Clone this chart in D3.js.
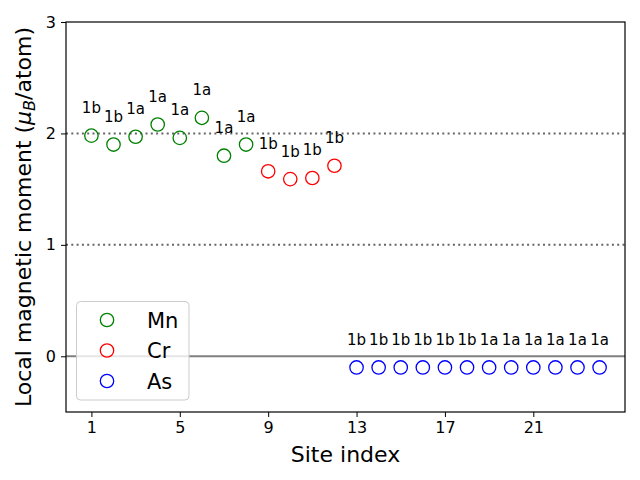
<!DOCTYPE html>
<html>
<head>
<meta charset="utf-8">
<script src="https://cdn.jsdelivr.net/npm/d3@7"></script>
<style>
body{margin:0;background:#fff;}
text{font-family:"DejaVu Sans",sans-serif;}
</style>
</head>
<body>
<svg id="chart" width="640" height="480"></svg>
<script>
const mnSites = [1,2,3,4,5,6,7,8];
const mnValues = [1.98,1.90,1.97,2.08,1.96,2.14,1.80,1.90];
const crSites = [9,10,11,12];
const crValues = [1.66,1.59,1.60,1.71];
const asSites = [13,14,15,16,17,18,19,20,21,22,23,24];
const asValues = [-0.10,-0.10,-0.10,-0.10,-0.10,-0.10,-0.10,-0.10,-0.10,-0.10,-0.10,-0.10];
const siteLabels = ["1b","1b","1a","1a","1a","1a","1a","1a","1b","1b","1b","1b",
                    "1b","1b","1b","1b","1b","1b","1a","1a","1a","1a","1a","1a"];
const xTicks = [1,5,9,13,17,21];
const yTicks = [0,1,2,3];
const refLines = [{y:2,dash:true},{y:1,dash:true},{y:0,dash:false}];

const series = [
  {name:"Mn", color:"green", sites:mnSites, values:mnValues},
  {name:"Cr", color:"red", sites:crSites, values:crValues},
  {name:"As", color:"blue", sites:asSites, values:asValues}
];

const L=66, R=625, T=22, B=412;
const svg = d3.select("#chart");
const x = d3.scaleLinear().domain([-0.15,25.15]).range([L,R]);
const y = d3.scaleLinear().domain([-0.5,3]).range([B,T]);

// reference lines
refLines.forEach(r=>{
  svg.append("line").attr("x1",L).attr("x2",R).attr("y1",y(r.y)).attr("y2",y(r.y))
    .attr("stroke", r.dash ? "#666" : "#808080")
    .attr("stroke-width", 2)
    .attr("stroke-dasharray", r.dash ? "2,3.3" : null);
});

// points
series.forEach(s=>{
  svg.append("g").selectAll("circle").data(s.sites.map((d,i)=>({x:d,y:s.values[i]})))
    .enter().append("circle")
    .attr("cx",d=>x(d.x)).attr("cy",d=>y(d.y)).attr("r",6.7)
    .attr("fill","none").attr("stroke",s.color).attr("stroke-width",1.3);
});

// site labels
const allSites = mnSites.concat(crSites, asSites);
const allVals = mnValues.concat(crValues, asValues);
svg.append("g").selectAll("text").data(allSites.map((d,i)=>({x:d,y:allVals[i],t:siteLabels[i]})))
  .enter().append("text")
  .attr("x",d=>x(d.x)).attr("y",d=>y(d.y+0.25)).attr("dy","0.35em")
  .attr("text-anchor","middle").attr("font-size","15px").attr("fill","#000")
  .text(d=>d.t);

// axes
const xAxis = svg.append("g").attr("transform",`translate(0,${B})`)
  .call(d3.axisBottom(x).tickValues(xTicks).tickSize(5).tickPadding(5).tickFormat(d3.format("d")));
const yAxis = svg.append("g").attr("transform",`translate(${L},0)`)
  .call(d3.axisLeft(y).tickValues(yTicks).tickSize(5).tickPadding(5).tickFormat(d3.format("d")));
[xAxis,yAxis].forEach(a=>{
  a.select(".domain").remove();
  a.selectAll("text").attr("font-size","16px").attr("font-family","DejaVu Sans").attr("fill","#000");
  a.selectAll("line").attr("stroke","#000").attr("stroke-width",1);
});

// frame
svg.append("rect").attr("x",L).attr("y",T).attr("width",R-L).attr("height",B-T)
  .attr("fill","none").attr("stroke","#000").attr("stroke-width",1.2);

// axis labels
svg.append("text").attr("x",(L+R)/2).attr("y",462).attr("text-anchor","middle")
  .attr("font-size","22px").text("Site index");
const yl = svg.append("text").attr("transform",`translate(31,${(T+B)/2}) rotate(-90)`)
  .attr("text-anchor","middle").attr("font-size","22px");
yl.append("tspan").text("Local magnetic moment (");
yl.append("tspan").attr("font-style","italic").text("μ");
yl.append("tspan").attr("font-style","italic").attr("font-size","16px").attr("dy","4").text("B");
yl.append("tspan").attr("dy","-4").text("/atom)");

// legend
const lg = svg.append("g");
lg.append("rect").attr("x",76.5).attr("y",301.5).attr("width",112.5).attr("height",98.5)
  .attr("rx",4).attr("fill","#fff").attr("fill-opacity",0.8).attr("stroke","#ccc").attr("stroke-width",1);
series.forEach((s,i)=>{
  const cy = 320 + i*30.5;
  lg.append("circle").attr("cx",107).attr("cy",cy).attr("r",6.7)
    .attr("fill","none").attr("stroke",s.color).attr("stroke-width",1.3);
  lg.append("text").attr("x",147).attr("y",cy).attr("dy","0.36em")
    .attr("font-size","21px").text(s.name);
});
</script>
</body>
</html>
